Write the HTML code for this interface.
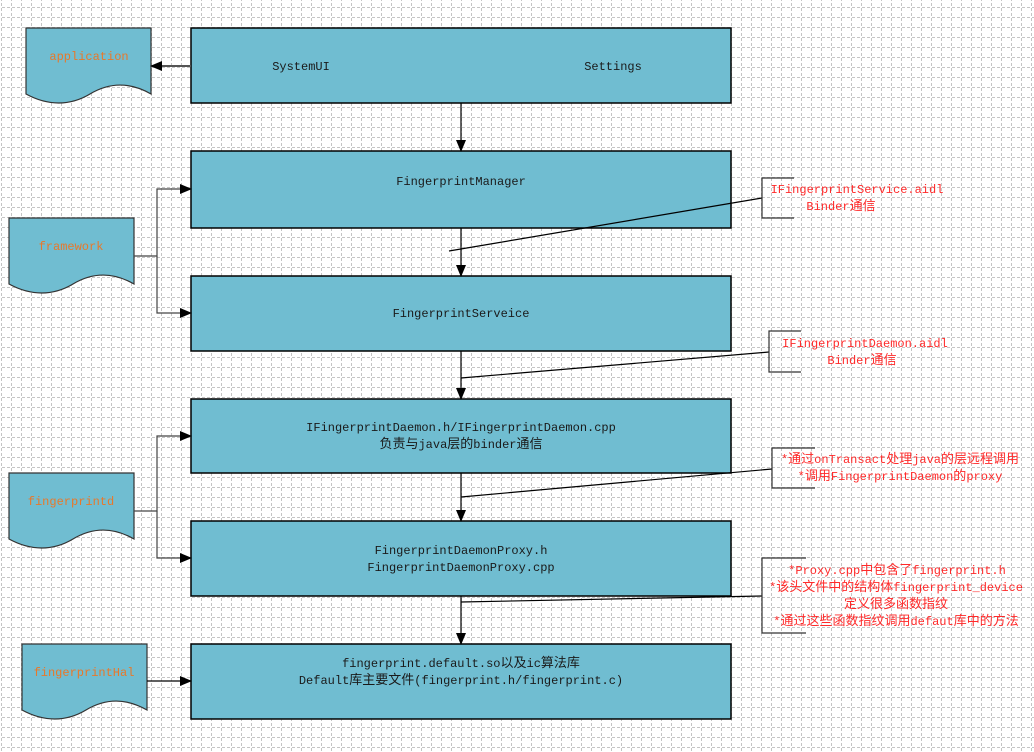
<!DOCTYPE html>
<html><head><meta charset="utf-8"><style>
body{margin:0;background:#fff}
svg{display:block}
text{font-family:"Liberation Mono","Noto Sans CJK SC",monospace;font-size:12px}
tspan.c{font-size:13px}
</style></head><body>
<svg width="1034" height="752" xmlns="http://www.w3.org/2000/svg">
<defs>
<pattern id="g" x="1" y="7" width="10" height="10" patternUnits="userSpaceOnUse">
<g fill="#c4c4c4" shape-rendering="crispEdges">
<rect x="0" y="1" width="1" height="3"/>
<rect x="0" y="6" width="1" height="3"/>
<rect x="1" y="0" width="3" height="1"/>
<rect x="6" y="0" width="3" height="1"/>
</g>
</pattern>
<marker id="a" markerWidth="12" markerHeight="10" refX="11" refY="5" orient="auto" markerUnits="userSpaceOnUse">
<path d="M0,0 L12,5 L0,10 Z" fill="#000"/></marker>
</defs>
<rect width="1034" height="752" fill="url(#g)"/>
<g fill="#70bdd1" stroke="#000" stroke-width="1.5">
<rect x="191" y="28" width="540" height="75"/>
<rect x="191" y="151" width="540" height="77"/>
<rect x="191" y="276" width="540" height="75"/>
<rect x="191" y="399" width="540" height="74"/>
<rect x="191" y="521" width="540" height="75"/>
<rect x="191" y="644" width="540" height="75"/>
</g>
<g fill="#70bdd1" stroke="#333" stroke-width="1.2">
<path d="M26,28 H151 V94 C130,82 110,82 90,94 C70,106 48,106 26,94 Z"/>
<path d="M9,218 H134 V284 C113,272 93,272 73,284 C53,296 31,296 9,284 Z"/>
<path d="M9,473 H134 V539 C113,527 93,527 73,539 C53,551 31,551 9,539 Z"/>
<path d="M22,644 H147 V710 C126,698 106,698 86,710 C66,722 44,722 22,710 Z"/>
</g>
<g font-size="12" fill="#e8782a" text-anchor="middle">
<text x="89" y="60">application</text>
<text x="71" y="250">framework</text>
<text x="71" y="505">fingerprintd</text>
<text x="84" y="676">fingerprintHal</text>
</g>
<g fill="#1a1a1a" text-anchor="middle">
<text x="301" y="70">SystemUI</text>
<text x="613" y="70">Settings</text>
<text x="461" y="185">FingerprintManager</text>
<text x="461" y="317">FingerprintServeice</text>
<text x="461" y="431">IFingerprintDaemon.h/IFingerprintDaemon.cpp</text>
<text x="461" y="448"><tspan class="c">负责与</tspan>java<tspan class="c">层的</tspan>binder<tspan class="c">通信</tspan></text>
<text x="461" y="554">FingerprintDaemonProxy.h</text>
<text x="461" y="571">FingerprintDaemonProxy.cpp</text>
<text x="461" y="667">fingerprint.default.so<tspan class="c">以及</tspan>ic<tspan class="c">算法库</tspan></text>
<text x="461" y="684">Default<tspan class="c">库主要文件</tspan>(fingerprint.h/fingerprint.c)</text>
</g>
<g stroke="#000" stroke-width="1.2" fill="none">
<line x1="191" y1="66" x2="151" y2="66" marker-end="url(#a)" stroke="#555" stroke-width="2"/>
<line x1="461" y1="103" x2="461" y2="151" marker-end="url(#a)"/>
<line x1="461" y1="228" x2="461" y2="276" marker-end="url(#a)"/>
<line x1="461" y1="351" x2="461" y2="399" marker-end="url(#a)"/>
<line x1="461" y1="473" x2="461" y2="521" marker-end="url(#a)"/>
<line x1="461" y1="596" x2="461" y2="644" marker-end="url(#a)"/>
<path d="M134,256 H157 V189 H191" marker-end="url(#a)" stroke="#444"/>
<path d="M157,256 V313 H191" marker-end="url(#a)" stroke="#444"/>
<path d="M134,511 H157 V436 H191" marker-end="url(#a)" stroke="#444"/>
<path d="M157,511 V558 H191" marker-end="url(#a)" stroke="#444"/>
<line x1="147" y1="681" x2="191" y2="681" marker-end="url(#a)"/>
<line x1="449" y1="251" x2="762" y2="198"/>
<line x1="461" y1="378" x2="769" y2="352"/>
<line x1="461" y1="497" x2="772" y2="469"/>
<line x1="461" y1="602" x2="762" y2="596"/>
<path d="M794,178 H762 V218 H794" stroke="#333"/>
<path d="M801,331 H769 V372 H801" stroke="#333"/>
<path d="M815,448 H772 V488 H815" stroke="#333"/>
<path d="M806,558 H762 V633 H806" stroke="#333"/>
</g>
<g fill="#ff2a2a" text-anchor="middle">
<text x="857" y="193">IFingerprintService.aidl</text>
<text x="841" y="210">Binder<tspan class="c">通信</tspan></text>
<text x="865" y="347">IFingerprintDaemon.aidl</text>
<text x="862" y="364">Binder<tspan class="c">通信</tspan></text>
<text x="900" y="463">*<tspan class="c">通过</tspan>onTransact<tspan class="c">处理</tspan>java<tspan class="c">的层远程调用</tspan></text>
<text x="900" y="480">*<tspan class="c">调用</tspan>FingerprintDaemon<tspan class="c">的</tspan>proxy</text>
<text x="897" y="574">*Proxy.cpp<tspan class="c">中包含了</tspan>fingerprint.h</text>
<text x="896" y="591">*<tspan class="c">该头文件中的结构体</tspan>fingerprint_device</text>
<text x="896" y="608"><tspan class="c">定义很多函数指纹</tspan></text>
<text x="896" y="625">*<tspan class="c">通过这些函数指纹调用</tspan>defaut<tspan class="c">库中的方法</tspan></text>
</g>
</svg>
</body></html>
